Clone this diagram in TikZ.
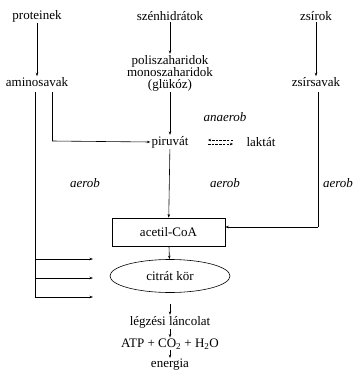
\documentclass[tikz,border=0pt]{standalone}
\usepackage{fontspec}
\setmainfont{Liberation Serif}
\usetikzlibrary{arrows.meta,shapes.geometric}
\begin{document}
\begin{tikzpicture}[x=1pt,y=-1pt,
  lbl/.style={inner sep=1pt,font=\fontsize{13}{12}\selectfont},
  itl/.style={inner sep=1pt,font=\fontsize{13}{12}\selectfont\itshape},
  conn/.style={line width=0.6pt,-{Stealth[length=3.5pt,width=2.5pt]}},
  dconn/.style={line width=0.6pt,-{Stealth[length=3pt,width=2.5pt]},dash pattern=on 2.5pt off 1.2pt},
  plain/.style={line width=0.6pt}]
\useasboundingbox (0,0) rectangle (356,372);
% nodes
\node[lbl] (prot) at (37,16) {proteinek};
\node[lbl] (szen) at (170,16) {szénhidrátok};
\node[lbl] (zsir) at (316,16) {zsírok};
\node[lbl] (amino) at (37,82) {aminosavak};
\node[lbl,align=center] (poli) at (170,73) {poliszaharidok\\monoszaharidok\\(glükóz)};
\node[lbl] (zsav) at (316,82) {zsírsavak};
\node[itl] (anaer) at (225,117) {anaerob};
\node[lbl] (piru) at (170,142) {piruvát};
\node[lbl] (lakt) at (261,142) {laktát};
\node[itl] (aer1) at (85,183) {aerob};
\node[itl] (aer2) at (225,183) {aerob};
\node[itl] (aer3) at (338,183) {aerob};
\node[draw,line width=0.6pt,minimum width=113pt,minimum height=28pt,lbl] (acet) at (168.5,232) {acetil-CoA};
\node[draw,ellipse,line width=0.6pt,minimum width=120pt,minimum height=33pt,lbl] (citr) at (170,276) {citrát kör};
\node[lbl] (legz) at (170,322) {légzési láncolat};
\node[lbl] (atp) at (170,344) {ATP + CO\textsubscript{2} + H\textsubscript{2}O};
\node[lbl] (ener) at (170,365) {energia};
% coordinates
\coordinate (a1) at (35,92);
\coordinate (a2) at (52,92);
\coordinate (a2b) at (52,141);
\coordinate (a1b) at (35,297);
\coordinate (c1) at (35,259);
\coordinate (c2) at (35,278);
\coordinate (c3) at (35,297);
\coordinate (e1) at (93,259);
\coordinate (e2) at (93,278);
\coordinate (e3) at (93,297);
\coordinate (z1) at (318,92);
\coordinate (z2) at (318,227);
\coordinate (dl) at (208,140);
\coordinate (dr) at (233,140);
\coordinate (dl2) at (208,144);
\coordinate (dr2) at (233,144);
\coordinate (cs) at (170,304);
% connectors
\draw[conn] (prot) -- (amino);
\draw[conn] (szen) -- (poli);
\draw[conn] (zsir) -- (zsav);
\draw[plain] (a2) -- (a2b);
\draw[conn] (a2b) -- (piru.west);
\draw[plain] (a1) -- (a1b);
\draw[conn] (c1) -- (e1);
\draw[conn] (c2) -- (e2);
\draw[conn] (c3) -- (e3);
\draw[conn] (poli) -- (piru);
\draw[conn] (piru) -- (acet);
\draw[plain] (z1) -- (z2);
\draw[conn] (z2) -- (z2 -| acet.east);
\draw[dconn] (dr) -- (dl);
\draw[dconn] (dl2) -- (dr2);
\draw[conn] (acet) -- (citr);
\draw[conn] (cs) -- (legz);
\draw[conn] (legz) -- (atp);
\draw[conn] (atp) -- (ener);
\end{tikzpicture}
\end{document}
